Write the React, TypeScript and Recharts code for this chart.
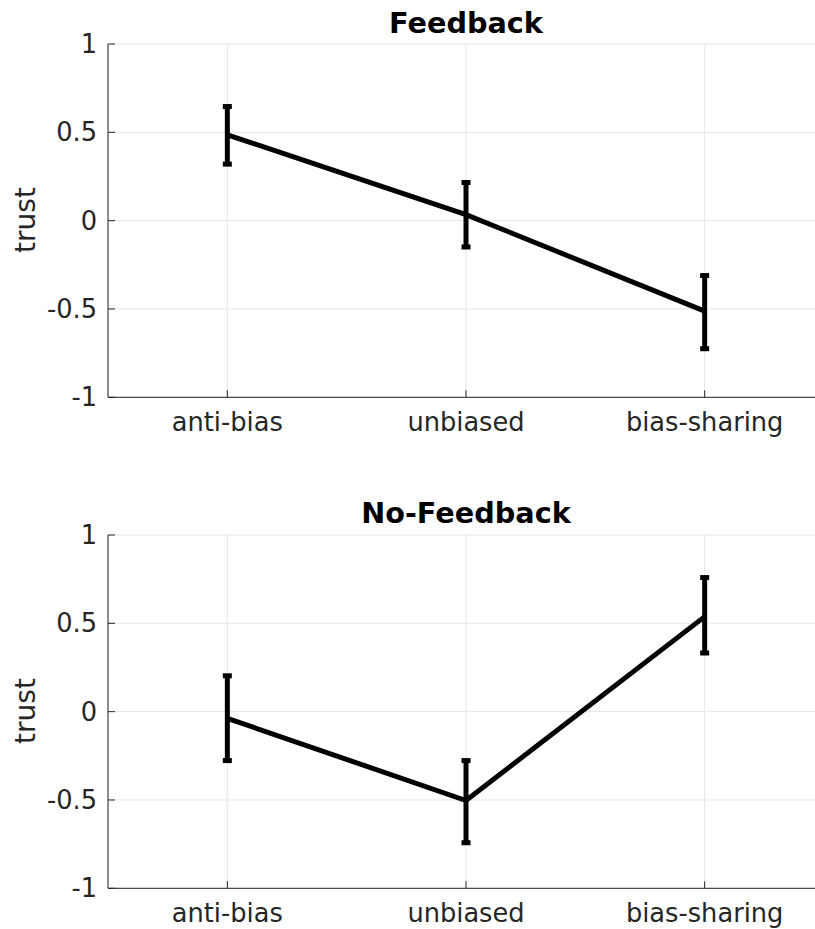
import { CartesianGrid, ErrorBar, Line, LineChart, XAxis, YAxis } from "recharts";

const categories = ["anti-bias", "unbiased", "bias-sharing"];
const yTicks = [-1, -0.5, 0, 0.5, 1];

// Feedback panel: mean and error bar ends
const feedbackMean = [0.486, 0.034, -0.512];
const feedbackLow = [0.32, -0.149, -0.725];
const feedbackHigh = [0.646, 0.216, -0.311];

// No-Feedback panel
const noFeedbackMean = [-0.038, -0.503, 0.538];
const noFeedbackLow = [-0.277, -0.742, 0.332];
const noFeedbackHigh = [0.203, -0.277, 0.759];

const FONT = "'DejaVu Sans', sans-serif";
const AXIS = "#262626";
const GRID = "#e6e6e6";

const buildRows = (mean: number[], low: number[], high: number[]) =>
  categories.map((c, i) => ({
    x: i + 1,
    name: c,
    mean: mean[i],
    err: [mean[i] - low[i], high[i] - mean[i]],
  }));

function Panel({ rows }: { rows: ReturnType<typeof buildRows> }) {
  return (
    <LineChart
      width={830}
      height={460}
      data={rows}
      margin={{ top: 44, right: 6, bottom: 22.7, left: 0 }}
    >
      <CartesianGrid stroke={GRID} strokeWidth={1} />
      <XAxis
        type="number"
        dataKey="x"
        domain={[0.5, 3.5]}
        ticks={[1, 2, 3]}
        interval={0}
        tickFormatter={(v: number) => categories[v - 1]}
        height={40}
        tickSize={-7}
        tickMargin={22}
        stroke={AXIS}
        tick={{ fill: AXIS, fontSize: 25.7, fontFamily: FONT }}
      />
      <YAxis
        type="number"
        domain={[-1, 1]}
        ticks={yTicks}
        interval={0}
        width={108}
        tickSize={-7}
        tickMargin={18}
        stroke={AXIS}
        tickFormatter={(v: number) => String(v)}
        tick={{ fill: AXIS, fontSize: 25.7, fontFamily: FONT }}
      />
      <Line
        dataKey="mean"
        stroke="#000"
        strokeWidth={5}
        dot={false}
        activeDot={false}
        isAnimationActive={false}
      >
        <ErrorBar
          dataKey="err"
          direction="y"
          width={4.5}
          strokeWidth={5}
          stroke="#000"
          isAnimationActive={false}
        />
      </Line>
    </LineChart>
  );
}

export default function App() {
  const feedback = buildRows(feedbackMean, feedbackLow, feedbackHigh);
  const noFeedback = buildRows(noFeedbackMean, noFeedbackLow, noFeedbackHigh);

  return (
    <div
      style={{
        position: "absolute",
        left: 0,
        top: 0,
        width: 815,
        height: 929,
        overflow: "hidden",
        background: "#fff",
      }}
    >
      <div style={{ position: "absolute", left: 0, top: 0 }}>
        <Panel rows={feedback} />
      </div>
      <div style={{ position: "absolute", left: 0, top: 491 }}>
        <Panel rows={noFeedback} />
      </div>
      <svg
        width={815}
        height={929}
        style={{ position: "absolute", left: 0, top: 0, pointerEvents: "none" }}
      >
        <g fontFamily={FONT}>
          <text x={466} y={33.3} textAnchor="middle" fontSize={28.7} fontWeight="bold" fill="#000">
            Feedback
          </text>
          <text x={466} y={523.3} textAnchor="middle" fontSize={28.7} fontWeight="bold" fill="#000">
            No-Feedback
          </text>
          <text transform="translate(35,220) rotate(-90)" textAnchor="middle" fontSize={28} fill={AXIS}>
            trust
          </text>
          <text transform="translate(35,711) rotate(-90)" textAnchor="middle" fontSize={28} fill={AXIS}>
            trust
          </text>
        </g>
      </svg>
    </div>
  );
}
